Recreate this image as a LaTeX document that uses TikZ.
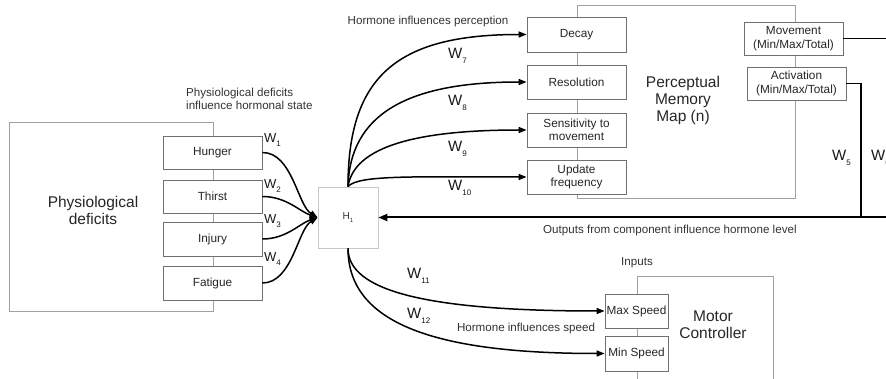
\documentclass[tikz,border=0pt]{standalone}
\usepackage{fontspec}
\setmainfont{Liberation Sans}
\usetikzlibrary{arrows.meta}
\definecolor{bigline}{HTML}{A0A0A0}
\definecolor{boxline}{HTML}{707070}
\definecolor{hline}{HTML}{C8C8C8}
\definecolor{txt}{HTML}{333333}
\newcommand{\Wlab}[1]{W\raisebox{-0.55ex}{\fontsize{8}{8}\selectfont #1}}
\begin{document}
\begin{tikzpicture}[x=1pt,y=-1pt,
  bigbox/.style={draw=bigline,line width=0.8pt,inner sep=0pt},
  smallbox/.style={draw=boxline,line width=0.8pt,fill=white,inner sep=0pt,
    font=\fontsize{11.8}{13.5}\selectfont,align=center,text=black!85},
  hbox/.style={draw=hline,line width=0.8pt,fill=white,inner sep=0pt,
    font=\fontsize{10}{12}\selectfont,text=txt},
  bigtext/.style={font=\fontsize{15.5}{17}\selectfont,align=center,text=black!85},
  lbl/.style={font=\fontsize{11.6}{13}\selectfont,text=txt,inner sep=0pt},
  wlab/.style={font=\fontsize{15}{17}\selectfont,text=black!90,inner sep=0pt,anchor=west},
  conn/.style={line width=1.5pt,-{Triangle[length=8pt,width=6pt]}},
  wire/.style={line width=1.5pt},
]
\clip (0,0) rectangle (886,379);
\fill[white] (0,0) rectangle (886,379);

% big containers
\node[bigbox,minimum width=204pt,minimum height=189pt] (pd) at (111,216.5) {};
\node[bigtext] (pdt) at (93,210) {Physiological\\deficits};
\node[bigbox,minimum width=218pt,minimum height=193pt] (pm) at (686,101.5) {};
\node[bigtext] (pmt) at (683,100) {Perceptual\\Memory\\Map (n)};
\node[bigbox,minimum width=136pt,minimum height=140pt] (mc) at (705,346) {};
\node[bigtext] (mct) at (713,325) {Motor\\Controller};

% deficit boxes
\node[smallbox,minimum width=99pt,minimum height=33pt] (hun) at (212.5,152.5) {Hunger};
\node[smallbox,minimum width=99pt,minimum height=33pt] (thi) at (212.5,196.5) {Thirst};
\node[smallbox,minimum width=99pt,minimum height=34pt] (inj) at (212.5,239) {Injury};
\node[smallbox,minimum width=99pt,minimum height=34pt] (fat) at (212.5,283) {Fatigue};

% hormone
\node[hbox,minimum width=60pt,minimum height=61pt] (h1) at (348,217.5) {H\raisebox{-0.6ex}{\fontsize{6}{6}\selectfont 1}};

% perceptual boxes
\node[smallbox,minimum width=99pt,minimum height=35pt] (dec) at (576.5,34.5) {Decay};
\node[smallbox,minimum width=99pt,minimum height=34pt] (res) at (576.5,82) {Resolution};
\node[smallbox,minimum width=99pt,minimum height=34pt] (sen) at (576.5,130) {Sensitivity to\\movement};
\node[smallbox,minimum width=99pt,minimum height=34pt] (upd) at (576.5,177) {Update\\frequency};
\node[smallbox,minimum width=99pt,minimum height=33pt] (mov) at (793.5,38.5) {Movement\\(Min/Max/Total)};
\node[smallbox,minimum width=99pt,minimum height=33pt] (act) at (796.5,83.5) {Activation\\(Min/Max/Total)};

% motor boxes
\node[smallbox,minimum width=63pt,minimum height=34pt] (max) at (636.5,311) {Max Speed};
\node[smallbox,minimum width=63pt,minimum height=35pt] (min) at (636.5,353.5) {Min Speed};

% labels
\node[lbl,align=left,anchor=west] (l1) at (186,99) {Physiological deficits\\influence hormonal state};
\node[lbl] (l2) at (428,22) {Hormone influences perception};
\node[lbl,anchor=west] (l3) at (543,231) {Outputs from component influence hormone level};
\node[lbl] (l4) at (637,263) {Inputs};
\node[lbl] (l5) at (526,329) {Hormone influences speed};

% W labels
\node[wlab,font=\fontsize{13}{15}\selectfont] (w1) at (264,140) {\Wlab{1}};
\node[wlab,font=\fontsize{13}{15}\selectfont] (w2) at (264,186) {\Wlab{2}};
\node[wlab,font=\fontsize{13}{15}\selectfont] (w3) at (264,221) {\Wlab{3}};
\node[wlab,font=\fontsize{13}{15}\selectfont] (w4) at (264,259) {\Wlab{4}};
\node[wlab] (w7) at (448,56) {\Wlab{7}};
\node[wlab] (w8) at (448,103) {\Wlab{8}};
\node[wlab] (w9) at (448,149) {\Wlab{9}};
\node[wlab] (w10) at (448,188) {\Wlab{10}};
\node[wlab] (w11) at (407,276) {\Wlab{11}};
\node[wlab] (w12) at (407,316) {\Wlab{12}};
\node[wlab] (w5) at (832,158) {\Wlab{5}};
\node[wlab] (w6) at (871,158) {\Wlab{6}};

% deficits -> hormone
\draw[conn] (hun.east) .. controls +(30,0) and +(-20,-12) .. (h1.west);
\draw[conn] (thi.east) .. controls +(24,0) and +(-18,-6) .. (h1.west);
\draw[conn] (inj.east) .. controls +(24,0) and +(-18,6) .. (h1.west);
\draw[conn] (fat.east) .. controls +(30,0) and +(-20,12) .. (h1.west);

% hormone -> perception
\draw[conn] (h1.north) .. controls +(0,-110) and +(-130,0) .. (dec.west);
\draw[conn] (h1.north) .. controls +(2,-72) and +(-120,0) .. (res.west);
\draw[conn] (h1.north) .. controls +(6,-40) and +(-110,0) .. (sen.west);
\draw[conn] (h1.north) .. controls +(10,-12) and +(-110,0) .. (upd.west);

% hormone -> motor
\draw[conn] (h1.south) .. controls +(0,42) and +(-180,0) .. (max.west);
\draw[conn] (h1.south) .. controls +(0,75) and +(-170,0) .. (min.west);

% outputs back to hormone
\coordinate (far) at (900,217.5);
\coordinate (farm) at (900,38.5);
\coordinate (j5) at (861,217.5);
\draw[wire] (mov.east) -- (farm);
\draw[wire] (act.east) -| (j5);
\draw[line width=2pt,-{Triangle[length=9pt,width=7pt]}] (far) -- (h1.east);
\end{tikzpicture}
\end{document}
